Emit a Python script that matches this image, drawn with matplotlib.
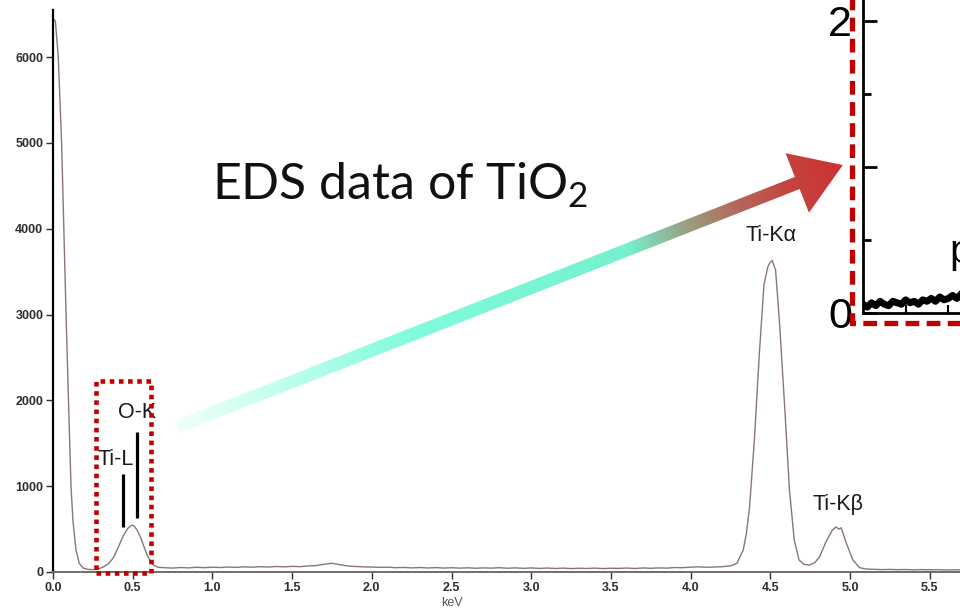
import numpy as np
import matplotlib
matplotlib.use("Agg")
import matplotlib.pyplot as plt
from matplotlib.colors import LinearSegmentedColormap
from matplotlib.patches import Polygon, Rectangle

# --- spectrum (keV, counts) ---
energy_kev = [0.00, 0.015, 0.033, 0.054, 0.068, 0.082, 0.097, 0.113, 0.125, 0.144, 0.165, 0.19,
              0.22, 0.26, 0.29, 0.32, 0.35, 0.38, 0.41, 0.44, 0.47, 0.49, 0.50, 0.51, 0.53,
              0.55, 0.57, 0.59, 0.61, 0.63, 0.66,
              0.70, 0.75, 0.80, 0.85, 0.90, 0.95, 1.00, 1.05, 1.10, 1.15, 1.20, 1.25, 1.30,
              1.35, 1.40, 1.45, 1.50, 1.55, 1.60, 1.65, 1.70, 1.75, 1.80, 1.85, 1.90, 1.95,
              2.00, 2.05, 2.10, 2.15, 2.20, 2.25, 2.30, 2.35, 2.40, 2.45, 2.50, 2.55, 2.60,
              2.65, 2.70, 2.75, 2.80, 2.85, 2.90, 2.95, 3.00, 3.05, 3.10, 3.15, 3.20, 3.25,
              3.30, 3.35, 3.40, 3.45, 3.50, 3.55, 3.60, 3.65, 3.70, 3.75, 3.80, 3.85, 3.90,
              3.95, 4.00, 4.05, 4.10, 4.15, 4.20, 4.25,
              4.29, 4.33, 4.35, 4.37, 4.40, 4.43, 4.46, 4.485, 4.50, 4.512, 4.533, 4.558,
              4.59, 4.62, 4.65, 4.68, 4.71, 4.746, 4.78, 4.81, 4.85, 4.89, 4.913, 4.93,
              4.945, 4.976, 5.018, 5.06, 5.10, 5.15, 5.20, 5.25, 5.30, 5.35, 5.40, 5.45,
              5.50, 5.55, 5.60, 5.65, 5.70]
counts = [6450, 6420, 6000, 5000, 4000, 3000, 2000, 1000, 600, 260, 100, 45,
          30, 28, 40, 62, 100, 170, 290, 420, 510, 540, 545, 535, 480,
          400, 300, 200, 130, 80, 55,
          50, 46, 52, 48, 55, 50, 56, 52, 58, 54, 60, 56, 62,
          58, 64, 60, 66, 62, 70, 75, 90, 102, 85, 70, 64, 60,
          58, 54, 56, 50, 53, 48, 52, 47, 51, 46, 50, 45, 49,
          44, 48, 45, 50, 44, 48, 43, 47, 42, 46, 41, 45, 40,
          44, 41, 45, 40, 44, 42, 46, 41, 47, 43, 48, 45, 52,
          50, 56, 60, 55, 58, 62, 72,
          100, 256, 450, 760, 1540, 2510, 3350, 3560, 3610, 3630, 3520, 2900,
          1930, 960, 375, 140, 90, 80, 110, 180, 355, 490, 525, 500,
          515, 340, 140, 50, 35, 32, 28, 30, 27, 29, 25, 28,
          26, 27, 24, 26, 25]
x_ticks = [0.0, 0.5, 1.0, 1.5, 2.0, 2.5, 3.0, 3.5, 4.0, 4.5, 5.0, 5.5]
y_ticks = [0, 1000, 2000, 3000, 4000, 5000, 6000]

# peak labels: (text, keV, counts)
peak_labels = [("Ti-L", 0.282, 1247), ("O-K", 0.408, 1795),
               ("Ti-K\u03b1", 4.345, 3858), ("Ti-K\u03b2", 4.763, 723)]
# marker bars: (keV, low, high)
marker_bars = [(0.44, 528, 1142), (0.53, 629, 1632)]
# dotted box around the O-K region (keV, counts)
box_x = (0.27, 0.615)
box_y = (-12, 2226)
# arrow from the box to the inset (keV, counts)
arrow_start = (0.777, 1690)
arrow_tip = (4.955, 4743)

# --- cropped inset from another plot ---
inset_x = [0, 2, 4, 6, 8, 10, 12, 14, 16, 18, 20, 22, 24, 26, 28, 30, 32, 34, 36, 38, 40, 42, 44, 46, 48]
inset_y = [0.06, 0.04, 0.07, 0.05, 0.08, 0.06, 0.05, 0.08, 0.07, 0.06, 0.09, 0.07, 0.08,
           0.06, 0.09, 0.08, 0.10, 0.08, 0.11, 0.09, 0.10, 0.12, 0.10, 0.13, 0.11]

W, H = 960, 616
fig = plt.figure(figsize=(W / 100, H / 100), dpi=100)
plt.rcParams['mathtext.fontset'] = 'custom'
plt.rcParams['mathtext.rm'] = 'Lato'

tick_font = ['Liberation Sans Narrow', 'Liberation Sans']

ax = fig.add_axes([53 / W, (H - 572) / H, (W - 53) / W, (572 - 10) / H])
ax.plot(energy_kev, counts, color='#8b7676', lw=1.0)
ax.set_xlim(0, 5.69)
ax.set_ylim(0, 6550)
ax.spines['top'].set_visible(False)
ax.spines['right'].set_visible(False)
ax.spines['left'].set_linewidth(1.6)
ax.spines['left'].set_color('black')
ax.spines['bottom'].set_linewidth(1.4)
ax.spines['bottom'].set_color('#6e6e6e')
ax.set_xticks(x_ticks)
ax.set_xticklabels([f"{v:.1f}" for v in x_ticks])
ax.set_yticks(y_ticks)
ax.tick_params(axis='both', labelsize=9, colors='#2e2e2e', width=1, length=5, pad=2)
for lab in ax.get_xticklabels() + ax.get_yticklabels():
    lab.set_family(tick_font)
    lab.set_fontweight('bold')
ax.set_xlabel("keV", fontsize=9, color='#555555', family=tick_font, labelpad=1)
ax.xaxis.set_label_coords(0.44, -0.045)

for x, lo, hi in marker_bars:
    ax.plot([x, x], [lo, hi], color='black', lw=2.3, solid_capstyle='butt')
for txt, x, y in peak_labels:
    ax.text(x, y, txt, fontsize=15.5, family='Liberation Sans', color='#1a1a1a', va='baseline')

ax.add_patch(Rectangle((box_x[0], box_y[0]), box_x[1] - box_x[0], box_y[1] - box_y[0],
                       fill=False, edgecolor='#c00000', lw=3.3, linestyle=(0, (1, 1)),
                       clip_on=False, zorder=4))

ax.text(0.999, 4336, r"EDS data of TiO$_\mathregular{2}$", fontsize=36, family='Lato',
        color='#111111', va='baseline')

# inset (cropped panel) in the top-right corner
ax2 = fig.add_axes([863 / W, (H - 313) / H, 0.22, 0.65])
ax2.plot(inset_x, inset_y, color='black', lw=5)
ax2.set_xlim(0, 99)
ax2.set_ylim(0, 0.65 * H / 146)
ax2.set_yticks([0, 1, 2])
ax2.set_yticklabels(['0', '', '2'])
ax2.set_yticks([0.5, 1.5], minor=True)
ax2.set_xticks([20, 40])
ax2.set_xticklabels([])
ax2.tick_params(axis='y', which='major', direction='in', length=10, width=2, pad=8,
                labelsize=31)
ax2.tick_params(axis='y', which='minor', direction='in', length=6, width=2)
ax2.tick_params(axis='x', direction='in', length=6, width=1.5)
for lab in ax2.get_yticklabels():
    lab.set_family('Liberation Sans')
ax2.spines['left'].set_linewidth(2)
ax2.spines['bottom'].set_linewidth(2)
ax2.spines['top'].set_visible(False)
ax2.spines['right'].set_visible(False)
ax2.text(40.5, 0.34, "p", fontsize=29, family='Liberation Sans', va='baseline')

# overlay in pixel coordinates for the dashed frame and the gradient arrow
ov = fig.add_axes([0, 0, 1, 1], zorder=10)
ov.set_xlim(0, W)
ov.set_ylim(H, 0)
ov.axis('off')
ov.patch.set_alpha(0)

ov.add_patch(Rectangle((852, -20), 200, 343, fill=False, edgecolor='#c00000', lw=3.8,
                       linestyle=(0, (2.6, 1.4))))

fig.canvas.draw()
s = ax.transData.transform(arrow_start)
t = ax.transData.transform(arrow_tip)
s = np.array([s[0], H - s[1]])
t = np.array([t[0], H - t[1]])
d = (t - s) / np.linalg.norm(t - s)
n = np.array([-d[1], d[0]])
hw, hh, hl = 6.5, 32, 49
base = t - d * hl
pts = [s + n * hw, base + n * hw, base + n * hh, t, base - n * hh, base - n * hw, s - n * hw]
arrow_poly = Polygon(pts, closed=True, facecolor='none', edgecolor='none')
ov.add_patch(arrow_poly)

cmap = LinearSegmentedColormap.from_list('arrow', [
    (0.0, (240 / 255, 1.0, 252 / 255)),
    (0.15, (195 / 255, 1.0, 238 / 255)),
    (0.35, (128 / 255, 252 / 255, 220 / 255)),
    (0.68, (118 / 255, 240 / 255, 205 / 255)),
    (0.76, (150 / 255, 165 / 255, 135 / 255)),
    (0.84, (180 / 255, 105 / 255, 90 / 255)),
    (0.92, (196 / 255, 68 / 255, 62 / 255)),
    (1.0, (205 / 255, 50 / 255, 52 / 255)),
])
gx, gy = np.meshgrid(np.arange(W) + 0.5, np.arange(H) + 0.5)
grad = ((gx - s[0]) * d[0] + (gy - s[1]) * d[1]) / np.linalg.norm(t - s)
im = ov.imshow(np.clip(grad, 0, 1), cmap=cmap, extent=[0, W, H, 0], vmin=0, vmax=1,
               interpolation='bilinear', aspect='auto')
im.set_clip_path(arrow_poly)
ov.set_xlim(0, W)
ov.set_ylim(H, 0)

fig.savefig("out.png", dpi=100)
